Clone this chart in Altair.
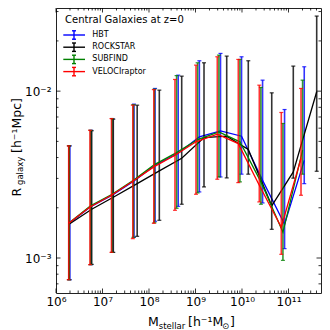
import altair as alt
import pandas as pd

codes = ["HBT", "ROCKSTAR", "SUBFIND", "VELOCIraptor"]
colors = ["blue", "black", "green", "red"]

# stellar mass bin centres [h^-1 Msun]
m_hbt = [1.99e6, 5.70e6, 1.65e7, 4.76e7, 1.35e8, 4.25e8, 1.21e9, 3.45e9, 9.78e9, 2.77e10, 8.23e10, 2.18e11]
m_rock = [1.905e6, 5.86e6, 1.706e7, 5.57e7, 1.667e8, 5.05e8, 1.524e9, 4.69e9, 1.365e10, 4.36e10, 1.268e11, 4.04e11]
m_subf = [1.93e6, 5.54e6, 1.61e7, 4.62e7, 1.31e8, 3.92e8, 1.11e9, 3.19e9, 9.02e9, 2.55e10, 7.59e10, 2.01e11]
m_velo = [1.875e6, 5.38e6, 1.56e7, 4.49e7, 1.27e8, 3.62e8, 1.026e9, 2.94e9, 8.32e9, 2.355e10, 7.00e10, 1.858e11]

# median galaxy radius [h^-1 Mpc]
r_hbt = [1.626e-3, 2.04e-3, 2.39e-3, 2.90e-3, 3.60e-3, 4.25e-3, 5.32e-3, 5.78e-3, 5.37e-3, 2.92e-3, 1.592e-3, 3.85e-3]
r_rock = [1.592e-3, 1.959e-3, 2.312e-3, 2.79e-3, 3.33e-3, 3.96e-3, 5.27e-3, 5.37e-3, 4.47e-3, 2.056e-3, 3.28e-3, 9.91e-3]
r_subf = [1.626e-3, 2.056e-3, 2.41e-3, 2.92e-3, 3.63e-3, 4.28e-3, 5.13e-3, 5.70e-3, 4.97e-3, 2.86e-3, 1.426e-3, 4.43e-3]
r_velo = [1.614e-3, 2.023e-3, 2.377e-3, 2.884e-3, 3.516e-3, 4.13e-3, 4.97e-3, 5.52e-3, 4.85e-3, 2.73e-3, 1.528e-3, 3.96e-3]

# lower / upper ends of the scatter bars
lo_hbt = [7.41e-4, 9.12e-4, 1.081e-3, 1.33e-3, 1.660e-3, 2.04e-3, 2.489e-3, 3.06e-3, 3.18e-3, 2.138e-3, 1.138e-3, 2.79e-3]
hi_hbt = [4.70e-3, 5.83e-3, 6.85e-3, 8.36e-3, 1.038e-2, 1.247e-2, 1.521e-2, 1.683e-2, 1.607e-2, 1.164e-2, 7.76e-3, 1.400e-2]
lo_rock = [7.41e-4, 9.16e-4, 1.081e-3, 1.349e-3, 1.683e-3, 2.10e-3, 2.667e-3, 3.02e-3, 3.18e-3, 1.486e-3, 3.01e-3, 3.31e-3]
hi_rock = [4.70e-3, 5.79e-3, 6.79e-3, 8.24e-3, 1.014e-2, 1.230e-2, 1.479e-2, 1.622e-2, 1.521e-2, 9.77e-3, 1.413e-2, 2.818e-2]
lo_subf = [7.41e-4, 9.12e-4, 1.081e-3, 1.33e-3, 1.626e-3, 1.986e-3, 2.455e-3, 3.06e-3, 2.86e-3, 2.10e-3, 9.68e-4, 3.18e-3]
hi_subf = [4.70e-3, 5.83e-3, 6.85e-3, 8.30e-3, 1.028e-2, 1.239e-2, 1.479e-2, 1.644e-2, 1.549e-2, 1.052e-2, 6.40e-3, 1.164e-2]
lo_velo = [7.41e-4, 9.12e-4, 1.081e-3, 1.306e-3, 1.614e-3, 1.932e-3, 2.41e-3, 2.965e-3, 2.83e-3, 2.168e-3, 1.052e-3, 2.377e-3]
hi_velo = [4.70e-3, 5.83e-3, 6.85e-3, 8.24e-3, 1.021e-2, 1.175e-2, 1.432e-2, 1.607e-2, 1.549e-2, 1.086e-2, 7.45e-3, 1.038e-2]

x_major = [1e6, 1e7, 1e8, 1e9, 1e10, 1e11]
x_minor = [k * 10.0 ** e for e in range(6, 12) for k in range(2, 10) if k * 10.0 ** e < 4.9e11]
y_major = [1e-3, 1e-2]
y_minor = [7e-4, 8e-4, 9e-4] + [k * 1e-3 for k in range(2, 10)] + [2e-2, 3e-2]

series = {
    "HBT": (m_hbt, r_hbt, lo_hbt, hi_hbt),
    "ROCKSTAR": (m_rock, r_rock, lo_rock, hi_rock),
    "SUBFIND": (m_subf, r_subf, lo_subf, hi_subf),
    "VELOCIraptor": (m_velo, r_velo, lo_velo, hi_velo),
}
rows = []
for code, (ms, rs, los, his) in series.items():
    for m, r, lo, hi in zip(ms, rs, los, his):
        rows.append({"code": code, "M": m, "R": r, "lo": lo, "hi": hi})
df = pd.DataFrame(rows)

W, H = 265, 285
xscale = alt.Scale(type="log", domain=[1e6, 5.0e11], nice=False)
yscale = alt.Scale(type="log", domain=[6.17e-4, 3.15e-2], nice=False)

sup = {6: "⁶", 7: "⁷", 8: "⁸", 9: "⁹", 10: "¹⁰", 11: "¹¹"}
xlab = " : ".join(
    f"datum.value > {0.5 * 10.0 ** e} && datum.value < {2 * 10.0 ** e} ? '10{sup[e]}'" for e in range(6, 12)
) + " : ''"
ylab = "datum.value > 0.005 ? '10⁻²' : '10⁻³'"

xaxis = alt.Axis(values=x_major, labelExpr=xlab, ticks=False, domain=False, grid=False,
                 title=None, labelFontSize=12, labelPadding=3, labelFlush=False,
                 labelColor="black", labelFont="DejaVu Sans")
yaxis = alt.Axis(values=y_major, labelExpr=ylab, ticks=False, domain=False, grid=False,
                 title=None, labelFontSize=12, labelPadding=5, labelColor="black",
                 labelFont="DejaVu Sans")

color = alt.Color("code:N", scale=alt.Scale(domain=codes, range=colors), legend=None)

base = alt.Chart(df)
layers = []
for code in codes:
    b = base.transform_filter(alt.datum.code == code)
    bars = b.mark_rule(strokeWidth=1.6, opacity=0.8).encode(
        x=alt.X("M:Q", scale=xscale, axis=xaxis),
        y=alt.Y("lo:Q", scale=yscale, axis=yaxis),
        y2="hi:Q",
        color=color,
    )
    cap_lo = b.mark_tick(orient="horizontal", size=4, thickness=1.2, opacity=0.8).encode(
        x=alt.X("M:Q", scale=xscale, axis=xaxis),
        y=alt.Y("lo:Q", scale=yscale, axis=yaxis),
        color=color,
    )
    cap_hi = b.mark_tick(orient="horizontal", size=4, thickness=1.2, opacity=0.8).encode(
        x=alt.X("M:Q", scale=xscale, axis=xaxis),
        y=alt.Y("hi:Q", scale=yscale, axis=yaxis),
        color=color,
    )
    line = b.mark_line(strokeWidth=1.3).encode(
        x=alt.X("M:Q", scale=xscale, axis=xaxis),
        y=alt.Y("R:Q", scale=yscale, axis=yaxis),
        color=color,
        order="M:Q",
    )
    layers += [bars, cap_lo, cap_hi, line]

# inward ticks on all four sides
def xticks(vals, length):
    c = alt.Chart(pd.DataFrame({"M": vals}))
    enc = dict(x=alt.X("M:Q", scale=xscale, axis=xaxis))
    bot = c.mark_rule(color="black", strokeWidth=0.8).encode(y=alt.value(H), y2=alt.value(H - length), **enc)
    top = c.mark_rule(color="black", strokeWidth=0.8).encode(y=alt.value(0), y2=alt.value(length), **enc)
    return [bot, top]

def yticks(vals, length):
    c = alt.Chart(pd.DataFrame({"R": vals}))
    enc = dict(y=alt.Y("R:Q", scale=yscale, axis=yaxis))
    left = c.mark_rule(color="black", strokeWidth=0.8).encode(x=alt.value(0), x2=alt.value(length), **enc)
    right = c.mark_rule(color="black", strokeWidth=0.8).encode(x=alt.value(W), x2=alt.value(W - length), **enc)
    return [left, right]

layers += xticks(x_major, 4.5) + xticks(x_minor, 2.5) + yticks(y_major, 4.5) + yticks(y_minor, 2.5)

one = pd.DataFrame({"a": [0]})

def txt(s, x, y, size, angle=0, baseline="alphabetic"):
    return alt.Chart(pd.DataFrame({"t": [s]})).mark_text(
        align="left", baseline=baseline, fontSize=size, font="DejaVu Sans",
        color="black", angle=angle,
    ).encode(text="t:N", x=alt.value(x), y=alt.value(y))

def seg(x1, x2, y1, y2, col):
    return alt.Chart(one).mark_rule(color=col, strokeWidth=1.4).encode(
        x=alt.value(x1), x2=alt.value(x2), y=alt.value(y1), y2=alt.value(y2))

# legend (drawn by hand: error-bar symbols)
legend_rows = [27, 39.2, 51.4, 63.6]
layers.append(txt("Central Galaxies at z=0", 9, 14.5, 10))
for code, col, yy in zip(codes, colors, legend_rows):
    layers += [
        seg(7.3, 29, yy, yy, col),
        seg(18, 18, yy - 4.2, yy + 4.2, col),
        seg(16, 20, yy - 4.2, yy - 4.2, col),
        seg(16, 20, yy + 4.2, yy + 4.2, col),
        txt(code, 36.3, yy, 8, baseline="middle"),
    ]

# axis titles (with sub/superscripts)
layers += [
    txt("M", 92, 317.5, 12.5),
    txt("stellar", 102.8, 320.5, 8.5),
    txt("[h⁻¹M", 132, 317.5, 12.5),
    txt("⊙", 166, 320.5, 8.5),
    txt("]", 174, 317.5, 12.5),
    txt("R", -35.5, 188.5, 12.5, 270),
    txt("galaxy", -33, 177, 8.5, 270),
    txt("[h⁻¹Mpc]", -35.5, 145, 12.5, 270),
]

chart = alt.layer(*layers).properties(
    width=W, height=H,
    autosize=alt.AutoSizeParams(type="none"),
    padding={"left": 48, "top": 0, "right": 1, "bottom": 37},
    background="white",
).configure_view(stroke="#222", strokeWidth=1)

chart.save("out.html", embed_options={"renderer": "svg", "actions": False})
